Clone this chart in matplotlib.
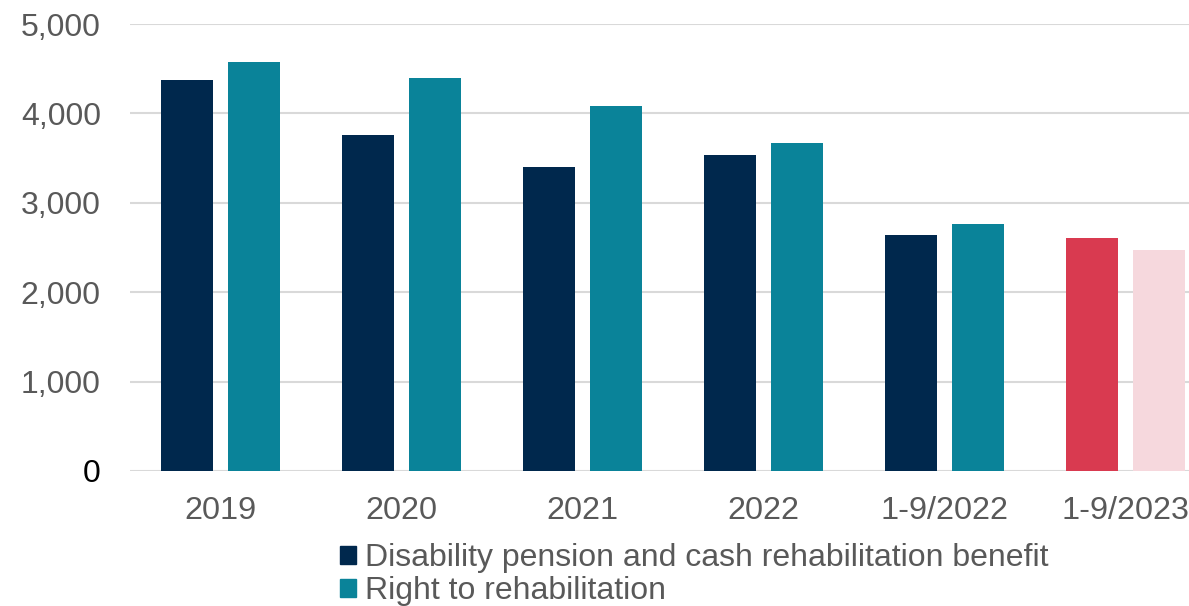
import numpy as np
import matplotlib.pyplot as plt
from matplotlib.patches import Patch

# Applications per period
periods = ["2019", "2020", "2021", "2022", "1-9/2022", "1-9/2023"]
disability = [4375, 3760, 3400, 3535, 2640, 2605]
rehab = [4580, 4395, 4085, 3670, 2765, 2470]

navy = "#00284D"
teal = "#0A8399"
# the current period is highlighted in its own colours
dis_colors = [navy] * 5 + ["#D93A50"]
reh_colors = [teal] * 5 + ["#F6D8DD"]

plt.rcParams["font.family"] = ["Liberation Sans", "DejaVu Sans"]

W, H = 1189, 606
fig = plt.figure(figsize=(W / 100, H / 100), dpi=100)
ax = fig.add_axes([130 / W, 135 / H, 1086 / W, 447 / H])

x = np.arange(len(periods))
w = 0.29
ax.bar(x - 0.185, disability, w, color=dis_colors, zorder=3)
ax.bar(x + 0.185, rehab, w, color=reh_colors, zorder=3)

ax.set_xlim(-0.5, len(periods) - 0.5)
ax.set_ylim(0, 5000)
ax.set_yticks(range(0, 5001, 1000))
ax.set_yticklabels([f"{v:,}" for v in range(0, 5001, 1000)])
ax.set_xticks(x)
ax.set_xticklabels(periods)
ax.grid(axis="y", color="#D9D9D9", linewidth=1.5, zorder=0)
for s in ax.spines.values():
    s.set_visible(False)
ax.tick_params(length=0, labelcolor="#595959")
ax.tick_params(axis="y", pad=21, labelsize=23)
ax.tick_params(axis="x", pad=18, labelsize=23.3)
ax.get_yticklabels()[0].set_color("black")

handles = [Patch(color=navy), Patch(color=teal)]
labels = ["Disability pension and cash rehabilitation benefit",
          "Right to rehabilitation"]
fig.legend(handles, labels, loc="upper left", bbox_to_anchor=(340 / W, 1 - 543 / H),
           frameon=False, fontsize=23, labelcolor="#595959",
           handlelength=0.5, handleheight=0.5, handletextpad=0.27,
           labelspacing=0.1, borderpad=0, borderaxespad=0)

fig.savefig("out.png", dpi=100)
